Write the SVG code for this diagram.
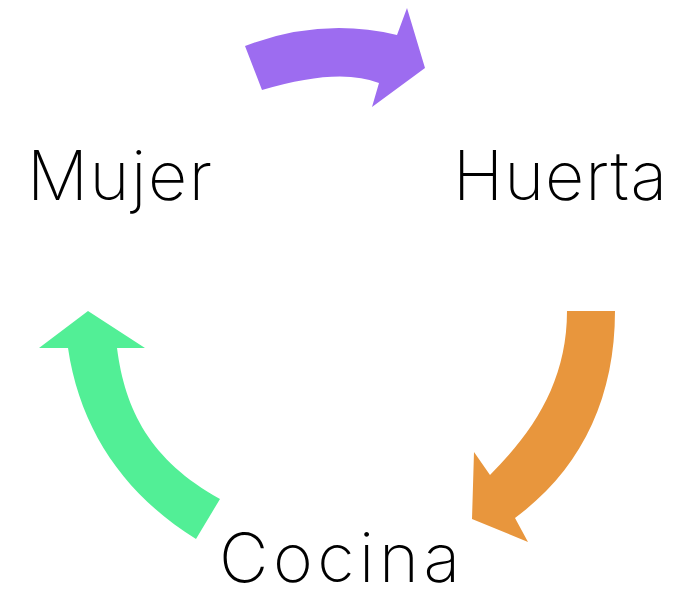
<svg xmlns="http://www.w3.org/2000/svg" width="692" height="589" viewBox="0 0 692 589">
<style>
.lbl{font-family:Inter,"Open Sans","Liberation Sans",sans-serif;font-weight:200;font-size:68px;fill:#000}
</style>
<rect width="692" height="589" fill="#fff"/>
<g id="connectors">
<path id="a1" fill="#9D6CF0" d="M245,46 Q321,17 397,35 L407,8 L425,68 L372,107 L379,83 Q339,67 262,90 Z"/>
<path id="a2" fill="#E8963D" d="M567,311 L615,311 C615,400 580,470 515,518 L528,542 L472,519 L474,452 L490,475 C535,430 567,380 567,311 Z"/>
<path id="a3" fill="#52EF96" d="M88,311 L145,348 L117,348 C125,410 150,460 220,499 L196,539 C125,495 80,430 68,348 L39,348 Z"/>
</g>
<g id="mujer"><text class="lbl" x="27" y="200" textLength="185" lengthAdjust="spacing">Mujer</text></g>
<g id="huerta"><text class="lbl" x="453" y="200" textLength="214" lengthAdjust="spacing">Huerta</text></g>
<g id="cocina"><text class="lbl" x="219" y="582" textLength="241" lengthAdjust="spacing">Cocina</text></g>
</svg>
